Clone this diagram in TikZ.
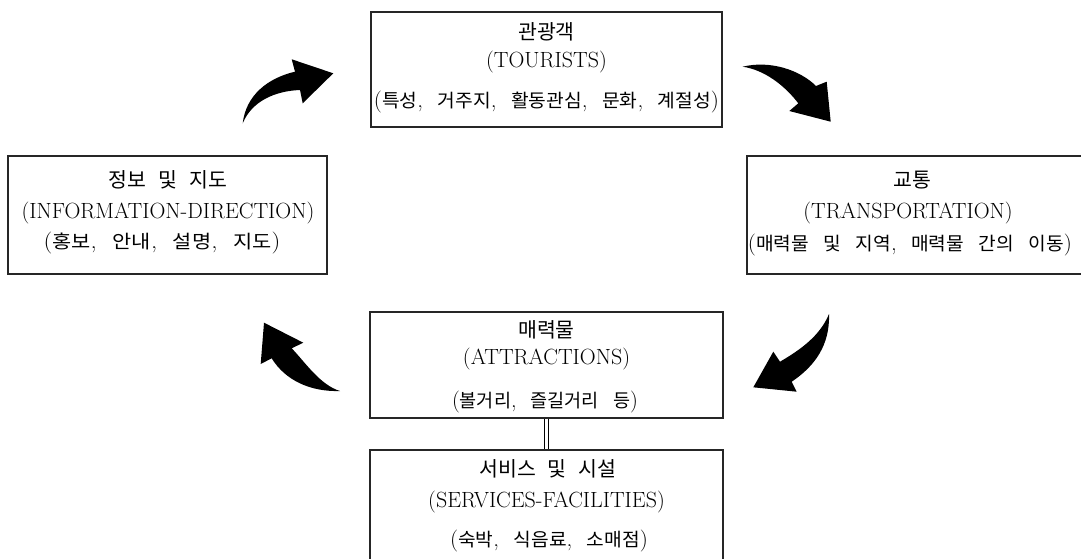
\documentclass[tikz,border=0pt]{standalone}
\usepackage{fontspec}
\usepackage{graphicx}
\newfontfamily\kr{Noto Sans CJK KR}
\newcommand\khead[1]{{\kr\fontsize{20.5}{24}\selectfont #1}}
\newcommand\ksub[1]{{\kr\fontsize{18.5}{22}\selectfont #1}}
\newcommand\ksp{\hspace{14pt}}
\newcommand\hsp{\hspace{12pt}}
\tikzset{
  box/.style={draw=black!85, line width=1.1pt, rectangle, inner sep=0pt},
  txt/.style={inner sep=0pt, font=\fontsize{22}{26}\selectfont},
  bigarrow/.style={fill=black, draw=none}
}
\begin{document}
\begin{tikzpicture}[x=1pt,y=-1pt]
\useasboundingbox (0,0) rectangle (1081,559);
% boxes
\node[box, minimum width=351pt, minimum height=115pt] (T) at (546.5,69.5) {};
\node[box, minimum width=319pt, minimum height=118pt] (I) at (167.5,215) {};
\node[box, minimum width=345pt, minimum height=118pt] (R) at (919.5,215) {};
\node[box, minimum width=353pt, minimum height=106pt] (A) at (546.5,365) {};
\node[box, minimum width=353pt, minimum height=124pt] (S) at (546.5,512) {};
% texts
\node[txt] (T1) at (546.5,32) {\khead{관광객}};
\node[txt] (T2) at (546.5,62) {(TOURISTS)};
\node[txt] (T3) at (546.5,102) {\resizebox{345pt}{\height}{(\ksub{특성},\ksp\ksub{거주지},\ksp\ksub{활동관심},\ksp\ksub{문화},\ksp\ksub{계절성})}};
\node[txt] (I1) at (168,180) {\khead{정보\hsp 및\hsp 지도}};
\node[txt] (I2) at (168,213) {(INFORMATION-DIRECTION)};
\node[txt] (I3) at (162,243) {\resizebox{237pt}{\height}{(\ksub{홍보},\ksp\ksub{안내},\ksp\ksub{설명},\ksp\ksub{지도})}};
\node[txt] (R1) at (912,180) {\khead{교통}};
\node[txt] (R2) at (908,213) {(TRANSPORTATION)};
\node[txt] (R3) at (910,245) {\resizebox{324pt}{\height}{(\ksub{매력물}\ksp\ksub{및}\ksp\ksub{지역},\ksp\ksub{매력물}\ksp\ksub{간의}\ksp\ksub{이동})}};
\node[txt] (A1) at (546.5,330) {\khead{매력물}};
\node[txt] (A2) at (546.5,359) {(ATTRACTIONS)};
\node[txt] (A3) at (545,402) {\resizebox{186pt}{\height}{(\ksub{볼거리},\ksp\ksub{즐길거리}\ksp\ksub{등})}};
\node[txt] (S1) at (548,469) {\khead{서비스\hsp 및\hsp 시설}};
\node[txt] (S2) at (546.5,502) {(SERVICES-FACILITIES)};
\node[txt] (S3) at (549,541) {\resizebox{198pt}{\height}{(\ksub{숙박},\ksp\ksub{식음료},\ksp\ksub{소매점})}};
% double connector
\draw[double=white, double distance=2.6pt, line width=0.9pt] (A.south) -- (S.north);
% curved arrows
\fill[bigarrow] (242.7,123.3) .. controls (246,95) and (268,78) .. (295,71.7)
  -- (291.7,59.3) -- (333.3,73.3) -- (302.7,103.3) -- (300,90)
  .. controls (275,91) and (252,101) .. (242.7,123.3) -- cycle;
\fill[bigarrow] (742.7,66.7) .. controls (770,60) and (800,70) .. (816,86)
  -- (826.7,81.7) -- (830.7,121.7) -- (789.3,111) -- (798.3,103.3)
  .. controls (785,86) and (765,70) .. (742.7,66.7) -- cycle;
\fill[bigarrow] (829,314) .. controls (830,345) and (815,366) .. (791.7,381.7)
  -- (796.7,391.7) -- (753.3,387.3) -- (773.3,351.7) -- (780,361.7)
  .. controls (800,350) and (820,336) .. (829,314) -- cycle;
\fill[bigarrow] (291.7,348.3) .. controls (305,362) and (320,385) .. (340,391)
  .. controls (310,392) and (285,380) .. (271.7,358.3)
  -- (260.7,364) -- (264,322.7) -- (303.3,342.7) -- cycle;
\end{tikzpicture}
\end{document}
